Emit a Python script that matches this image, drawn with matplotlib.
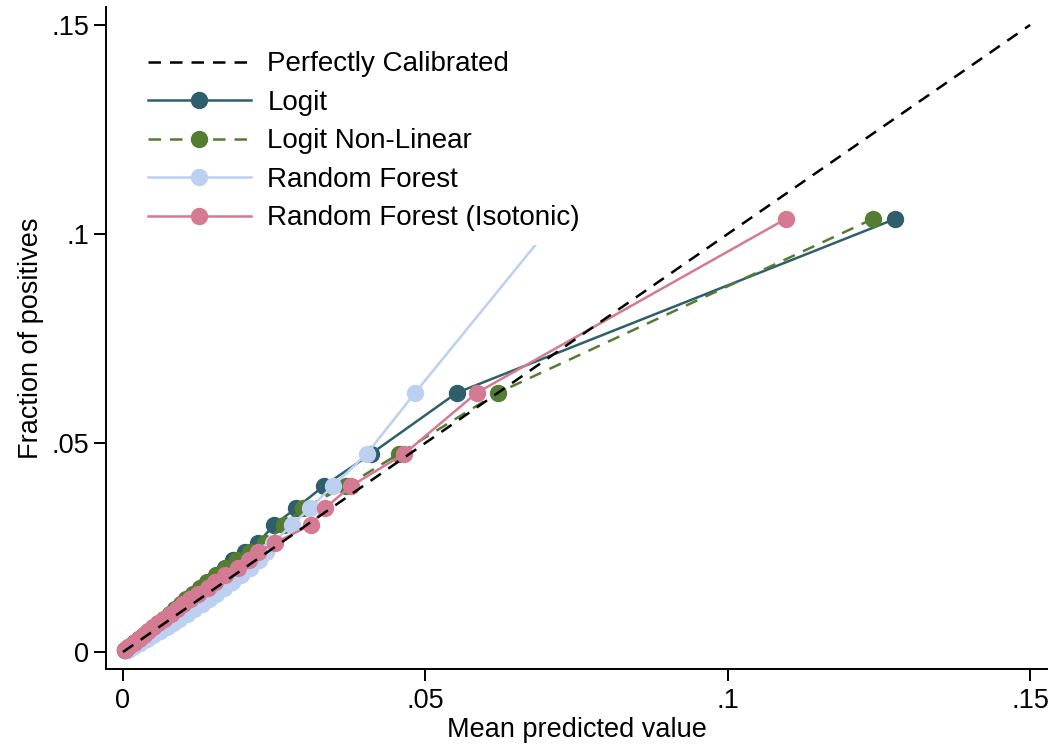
import matplotlib
matplotlib.use("Agg")
import matplotlib.pyplot as plt

plt.rcParams['font.family'] = ['Liberation Sans', 'DejaVu Sans']

# Shared fraction-of-positives per bin
frac_pos = [0.1036, 0.0620, 0.0474, 0.0397, 0.0344, 0.0304, 0.0261, 0.0239, 0.0220,
            0.0201, 0.0184, 0.0167, 0.0153, 0.0139, 0.0127, 0.0115, 0.0103, 0.0091,
            0.0079, 0.0069, 0.0060, 0.0050, 0.0041, 0.0031, 0.0022, 0.0012, 0.0005]

# Mean predicted value per bin, per model
logit_pred = [0.1277, 0.0552, 0.0410, 0.0332, 0.0286, 0.0250, 0.0223, 0.0202, 0.0182,
              0.0168, 0.0155, 0.0142, 0.0130, 0.0119, 0.0109, 0.0099, 0.0089, 0.0079,
              0.0069, 0.0061, 0.0053, 0.0044, 0.0036, 0.0027, 0.0019, 0.0010, 0.0004]
logit_nl_pred = [0.1240, 0.0620, 0.0456, 0.0369, 0.0298, 0.0266, 0.0235, 0.0210, 0.0189,
                 0.0170, 0.0154, 0.0139, 0.0127, 0.0115, 0.0105, 0.0096, 0.0086, 0.0077,
                 0.0068, 0.0059, 0.0052, 0.0043, 0.0035, 0.0027, 0.0019, 0.0010, 0.0004]
rf_pred = [0.0717, 0.0483, 0.0403, 0.0347, 0.0309, 0.0279, 0.0248, 0.0237, 0.0225,
           0.0210, 0.0195, 0.0180, 0.0167, 0.0154, 0.0142, 0.0130, 0.0118, 0.0106,
           0.0093, 0.0082, 0.0072, 0.0061, 0.0050, 0.0039, 0.0028, 0.0016, 0.0008]
rf_iso_pred = [0.1096, 0.0585, 0.0465, 0.0377, 0.0334, 0.0311, 0.0251, 0.0223, 0.0208,
               0.0190, 0.0169, 0.0152, 0.0140, 0.0124, 0.0110, 0.0100, 0.0090, 0.0080,
               0.0068, 0.0058, 0.0050, 0.0041, 0.0034, 0.0026, 0.0018, 0.0009, 0.0003]

diag = [0, 0.15]

labels = ["Perfectly Calibrated", "Logit", "Logit Non-Linear", "Random Forest",
          "Random Forest (Isotonic)"]
x_ticks = [0, 0.05, 0.1, 0.15]
x_ticklabels = ["0", ".05", ".1", ".15"]
y_ticks = [0, 0.05, 0.1, 0.15]
y_ticklabels = ["0", ".05", ".1", ".15"]

c_logit = "#2F5F6B"
c_nl = "#537D30"
c_rf = "#BCD0F2"
c_iso = "#D47A92"

fig = plt.figure(figsize=(10.56, 7.52), dpi=100)
ax = fig.add_axes([106 / 1056, 1 - 669 / 752, 941 / 1056, 662 / 752])

lw = 1.8
ms = 11.5
dash = (0, (5.0, 3.6))
h1, = ax.plot(logit_pred, frac_pos, color=c_logit, lw=lw, marker="o", ms=ms, zorder=2)
h2, = ax.plot(logit_nl_pred, frac_pos, color=c_nl, lw=lw, ls=dash, marker="o",
              ms=ms, zorder=3)
h3, = ax.plot(rf_pred, frac_pos, color=c_rf, lw=lw, marker="o", ms=ms, zorder=4)
h4, = ax.plot(rf_iso_pred, frac_pos, color=c_iso, lw=lw, marker="o", ms=ms, zorder=5)
h0, = ax.plot(diag, diag, color="black", lw=lw, ls=dash, zorder=6)

ax.set_xlim(-0.00281, 0.1528)
ax.set_ylim(-0.00407, 0.1543)

ax.set_xticks(x_ticks)
ax.set_xticklabels(x_ticklabels)
ax.set_yticks(y_ticks)
ax.set_yticklabels(y_ticklabels)

for s in ["top", "right"]:
    ax.spines[s].set_visible(False)
for s in ["left", "bottom"]:
    ax.spines[s].set_linewidth(1.4)

ax.tick_params(axis="both", labelsize=19.5, length=8.6, width=1.4, pad=3.5)
ax.tick_params(axis="x", pad=5)

ax.set_xlabel("Mean predicted value", fontsize=19.5, labelpad=2)
ax.set_ylabel("Fraction of positives", fontsize=19.5, labelpad=5)

leg = ax.legend([h0, h1, h2, h3, h4], labels, loc="upper left",
                bbox_to_anchor=(0.015, 0.975), fontsize=20, frameon=True,
                facecolor="white", edgecolor="none", framealpha=1,
                handlelength=3.7, numpoints=1, labelspacing=0.45,
                handletextpad=0.6, borderpad=0.5, fancybox=False, markerscale=1.0)
leg.set_zorder(10)

fig.savefig("out.png", dpi=100)
